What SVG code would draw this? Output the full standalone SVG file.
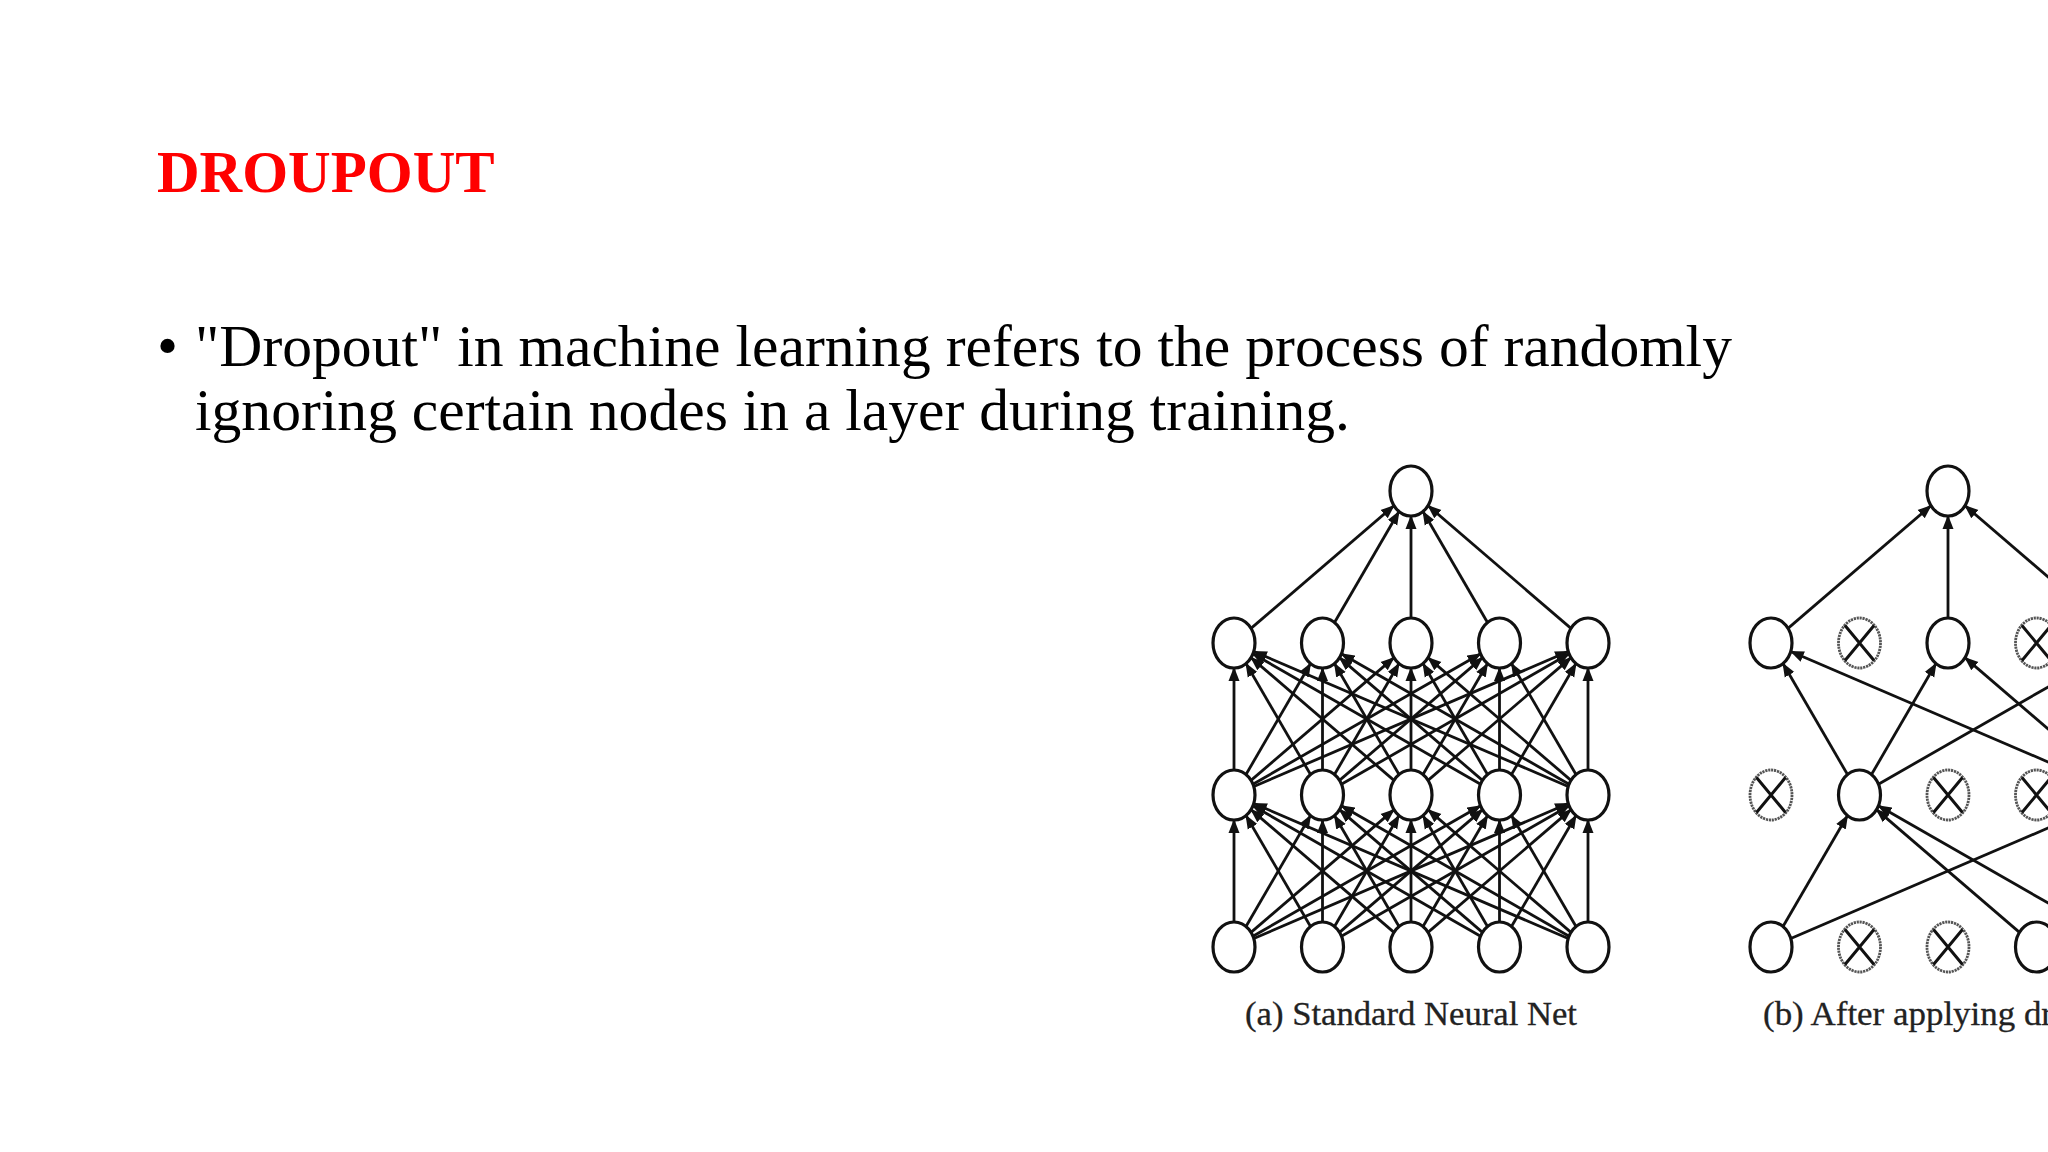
<svg xmlns="http://www.w3.org/2000/svg" width="2048" height="1152" viewBox="0 0 2048 1152">
<style>
.title{font-family:"Liberation Serif","Times New Roman",serif;font-weight:bold;font-size:59px;fill:#ff0000}
.body{font-family:"Liberation Serif","Times New Roman",serif;font-size:60px;fill:#000}
.cap{font-family:"Liberation Serif","Times New Roman",serif;font-size:34px;fill:#222;stroke:#222;stroke-width:0.3}
.n{fill:#fff;stroke:#111;stroke-width:3.2}
.x ellipse{fill:#fff;stroke:#555;stroke-width:2.8;stroke-dasharray:2.2 0.8}
.x path{fill:none;stroke:#111;stroke-width:3}
.e line{stroke:#111;stroke-width:2.8;marker-end:url(#ah)}
</style>
<defs>
<marker id="ah" markerUnits="userSpaceOnUse" markerWidth="16" markerHeight="12" refX="13" refY="6" orient="auto">
<path d="M0,0.5 L14,6 L0,11.5 z" fill="#111"/>
</marker>
</defs>
<rect width="2048" height="1152" fill="#fff"/>

<text class="title" x="157" y="192">DROUPOUT</text>
<text class="body" x="157" y="366">•</text>
<text class="body" x="195" y="366" textLength="1537" lengthAdjust="spacingAndGlyphs">"Dropout" in machine learning refers to the process of randomly</text>
<text class="body" x="195" y="430" textLength="1155" lengthAdjust="spacingAndGlyphs">ignoring certain nodes in a layer during training.</text>

<g id="connectors-a" class="e">
<line x1="1234" y1="922" x2="1234" y2="820"/>
<line x1="1246" y1="926.5" x2="1310.5" y2="815.5"/>
<line x1="1251" y1="932.4" x2="1394" y2="809.6"/>
<line x1="1252.9" y1="936.2" x2="1480.6" y2="805.8"/>
<line x1="1253.8" y1="938.5" x2="1568.2" y2="803.5"/>
<line x1="1310.5" y1="926.5" x2="1246" y2="815.5"/>
<line x1="1322.5" y1="922" x2="1322.5" y2="820"/>
<line x1="1334.5" y1="926.5" x2="1399" y2="815.5"/>
<line x1="1339.5" y1="932.4" x2="1482.5" y2="809.6"/>
<line x1="1341.4" y1="936.2" x2="1569.1" y2="805.8"/>
<line x1="1394" y1="932.4" x2="1251" y2="809.6"/>
<line x1="1399" y1="926.5" x2="1334.5" y2="815.5"/>
<line x1="1411" y1="922" x2="1411" y2="820"/>
<line x1="1423" y1="926.5" x2="1487.5" y2="815.5"/>
<line x1="1428" y1="932.4" x2="1571" y2="809.6"/>
<line x1="1480.6" y1="936.2" x2="1252.9" y2="805.8"/>
<line x1="1482.5" y1="932.4" x2="1339.5" y2="809.6"/>
<line x1="1487.5" y1="926.5" x2="1423" y2="815.5"/>
<line x1="1499.5" y1="922" x2="1499.5" y2="820"/>
<line x1="1511.5" y1="926.5" x2="1576" y2="815.5"/>
<line x1="1568.2" y1="938.5" x2="1253.8" y2="803.5"/>
<line x1="1569.1" y1="936.2" x2="1341.4" y2="805.8"/>
<line x1="1571" y1="932.4" x2="1428" y2="809.6"/>
<line x1="1576" y1="926.5" x2="1511.5" y2="815.5"/>
<line x1="1588" y1="922" x2="1588" y2="820"/>

<line x1="1234" y1="770" x2="1234" y2="668"/>
<line x1="1246" y1="774.5" x2="1310.5" y2="663.5"/>
<line x1="1251" y1="780.4" x2="1394" y2="657.6"/>
<line x1="1252.9" y1="784.2" x2="1480.6" y2="653.8"/>
<line x1="1253.8" y1="786.5" x2="1568.2" y2="651.5"/>
<line x1="1310.5" y1="774.5" x2="1246" y2="663.5"/>
<line x1="1322.5" y1="770" x2="1322.5" y2="668"/>
<line x1="1334.5" y1="774.5" x2="1399" y2="663.5"/>
<line x1="1339.5" y1="780.4" x2="1482.5" y2="657.6"/>
<line x1="1341.4" y1="784.2" x2="1569.1" y2="653.8"/>
<line x1="1394" y1="780.4" x2="1251" y2="657.6"/>
<line x1="1399" y1="774.5" x2="1334.5" y2="663.5"/>
<line x1="1411" y1="770" x2="1411" y2="668"/>
<line x1="1423" y1="774.5" x2="1487.5" y2="663.5"/>
<line x1="1428" y1="780.4" x2="1571" y2="657.6"/>
<line x1="1480.6" y1="784.2" x2="1252.9" y2="653.8"/>
<line x1="1482.5" y1="780.4" x2="1339.5" y2="657.6"/>
<line x1="1487.5" y1="774.5" x2="1423" y2="663.5"/>
<line x1="1499.5" y1="770" x2="1499.5" y2="668"/>
<line x1="1511.5" y1="774.5" x2="1576" y2="663.5"/>
<line x1="1568.2" y1="786.5" x2="1253.8" y2="651.5"/>
<line x1="1569.1" y1="784.2" x2="1341.4" y2="653.8"/>
<line x1="1571" y1="780.4" x2="1428" y2="657.6"/>
<line x1="1576" y1="774.5" x2="1511.5" y2="663.5"/>
<line x1="1588" y1="770" x2="1588" y2="668"/>

<line x1="1251" y1="628.4" x2="1394" y2="505.6"/>
<line x1="1334.5" y1="622.5" x2="1399" y2="511.5"/>
<line x1="1411" y1="618" x2="1411" y2="516"/>
<line x1="1487.5" y1="622.5" x2="1423" y2="511.5"/>
<line x1="1571" y1="628.4" x2="1428" y2="505.6"/>
</g>

<g id="connectors-b" class="e">
<line x1="1788" y1="628.4" x2="1931" y2="505.6"/>
<line x1="1948" y1="618" x2="1948" y2="516"/>
<line x1="2108" y1="628.4" x2="1965" y2="505.6"/>
<line x1="1847.5" y1="774.5" x2="1783" y2="663.5"/>
<line x1="2105.2" y1="786.5" x2="1790.8" y2="651.5"/>
<line x1="1871.5" y1="774.5" x2="1936" y2="663.5"/>
<line x1="2108" y1="780.4" x2="1965" y2="657.6"/>
<line x1="1878.4" y1="784.2" x2="2106.1" y2="653.8"/>
<line x1="1783" y1="926.5" x2="1847.5" y2="815.5"/>
<line x1="1790.8" y1="938.5" x2="2105.2" y2="803.5"/>
<line x1="2019.5" y1="932.4" x2="1876.5" y2="809.6"/>
<line x1="2106.1" y1="936.2" x2="1878.4" y2="805.8"/>
</g>

<g id="a-out"><ellipse class="n" cx="1411" cy="491" rx="21" ry="25"/></g>
<g id="a-h2-0"><ellipse class="n" cx="1234" cy="643" rx="21" ry="25"/></g>
<g id="a-h2-1"><ellipse class="n" cx="1322.5" cy="643" rx="21" ry="25"/></g>
<g id="a-h2-2"><ellipse class="n" cx="1411" cy="643" rx="21" ry="25"/></g>
<g id="a-h2-3"><ellipse class="n" cx="1499.5" cy="643" rx="21" ry="25"/></g>
<g id="a-h2-4"><ellipse class="n" cx="1588" cy="643" rx="21" ry="25"/></g>
<g id="a-h1-0"><ellipse class="n" cx="1234" cy="795" rx="21" ry="25"/></g>
<g id="a-h1-1"><ellipse class="n" cx="1322.5" cy="795" rx="21" ry="25"/></g>
<g id="a-h1-2"><ellipse class="n" cx="1411" cy="795" rx="21" ry="25"/></g>
<g id="a-h1-3"><ellipse class="n" cx="1499.5" cy="795" rx="21" ry="25"/></g>
<g id="a-h1-4"><ellipse class="n" cx="1588" cy="795" rx="21" ry="25"/></g>
<g id="a-in-0"><ellipse class="n" cx="1234" cy="947" rx="21" ry="25"/></g>
<g id="a-in-1"><ellipse class="n" cx="1322.5" cy="947" rx="21" ry="25"/></g>
<g id="a-in-2"><ellipse class="n" cx="1411" cy="947" rx="21" ry="25"/></g>
<g id="a-in-3"><ellipse class="n" cx="1499.5" cy="947" rx="21" ry="25"/></g>
<g id="a-in-4"><ellipse class="n" cx="1588" cy="947" rx="21" ry="25"/></g>

<g id="b-out"><ellipse class="n" cx="1948" cy="491" rx="21" ry="25"/></g>
<g id="b-h2-0"><ellipse class="n" cx="1771" cy="643" rx="21" ry="25"/></g>
<g id="b-h2-1" class="x"><ellipse cx="1859.5" cy="643" rx="21" ry="25"/><path d="M1845,625.5 L1874,660.5 M1874,625.5 L1845,660.5"/></g>
<g id="b-h2-2"><ellipse class="n" cx="1948" cy="643" rx="21" ry="25"/></g>
<g id="b-h2-3" class="x"><ellipse cx="2036.5" cy="643" rx="21" ry="25"/><path d="M2022,625.5 L2051,660.5 M2051,625.5 L2022,660.5"/></g>
<g id="b-h1-0" class="x"><ellipse cx="1771" cy="795" rx="21" ry="25"/><path d="M1756.5,777.5 L1785.5,812.5 M1785.5,777.5 L1756.5,812.5"/></g>
<g id="b-h1-1"><ellipse class="n" cx="1859.5" cy="795" rx="21" ry="25"/></g>
<g id="b-h1-2" class="x"><ellipse cx="1948" cy="795" rx="21" ry="25"/><path d="M1933.5,777.5 L1962.5,812.5 M1962.5,777.5 L1933.5,812.5"/></g>
<g id="b-h1-3" class="x"><ellipse cx="2036.5" cy="795" rx="21" ry="25"/><path d="M2022,777.5 L2051,812.5 M2051,777.5 L2022,812.5"/></g>
<g id="b-in-0"><ellipse class="n" cx="1771" cy="947" rx="21" ry="25"/></g>
<g id="b-in-1" class="x"><ellipse cx="1859.5" cy="947" rx="21" ry="25"/><path d="M1845,929.5 L1874,964.5 M1874,929.5 L1845,964.5"/></g>
<g id="b-in-2" class="x"><ellipse cx="1948" cy="947" rx="21" ry="25"/><path d="M1933.5,929.5 L1962.5,964.5 M1962.5,929.5 L1933.5,964.5"/></g>
<g id="b-in-3"><ellipse class="n" cx="2036.5" cy="947" rx="21" ry="25"/></g>

<text class="cap" x="1245" y="1025" textLength="332" lengthAdjust="spacingAndGlyphs">(a) Standard Neural Net</text>
<text class="cap" x="1763" y="1025" textLength="290" lengthAdjust="spacingAndGlyphs">(b) After applying dr</text>
</svg>
